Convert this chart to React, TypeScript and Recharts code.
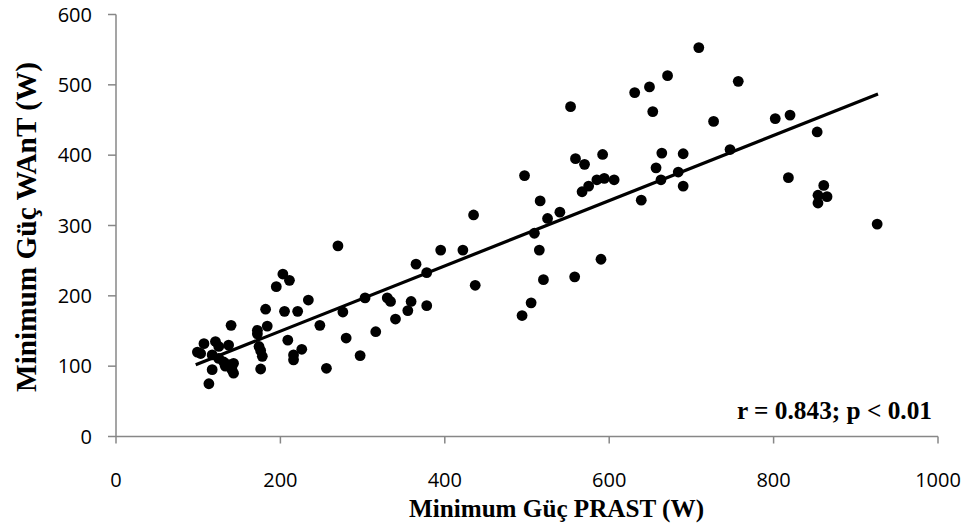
import React from 'react';
import { ScatterChart, Scatter, XAxis, YAxis, Label } from 'recharts';

// Minimum power, PRAST test (W) and WAnT test (W), one entry per subject
const prastW = [
  99, 103, 107, 113, 117, 117, 121, 125, 125, 131, 133, 137, 137, 140, 141, 143, 143,
  172, 172, 174, 176, 178, 176, 182, 184, 195, 203, 205, 209, 211, 216, 216, 221, 226,
  234, 248, 256, 270, 276, 280, 297, 303, 316, 330, 334, 340, 355, 359, 365, 378, 378,
  395, 422, 435, 437,
  494, 497, 505, 509, 515, 516, 520, 525, 540, 553, 558, 559, 567, 570, 575, 585, 590,
  592, 594, 606,
  631, 639, 649, 653, 657, 663, 664, 671, 684, 690, 690, 709, 727, 747, 757, 802, 818,
  820, 853, 854, 854, 861, 865, 926,
];
const wantW = [
  120, 118, 132, 75, 116, 95, 135, 128, 111, 106, 100, 130, 102, 158, 95, 104, 90,
  151, 146, 128, 122, 114, 96, 181, 157, 213, 231, 178, 137, 222, 116, 109, 178, 124,
  194, 158, 97, 271, 177, 140, 115, 197, 149, 197, 192, 167, 179, 192, 245, 233, 186,
  265, 265, 315, 215,
  172, 371, 190, 289, 265, 335, 223, 310, 319, 469, 227, 395, 348, 387, 356, 365, 252,
  401, 367, 365,
  489, 336, 497, 462, 382, 365, 403, 513, 376, 402, 356, 553, 448, 408, 505, 452, 368,
  457, 433, 343, 332, 357, 341, 302,
];

// regression line end points
const trendX = [97, 927];
const trendY = [102, 487];

const xTicks = [0, 200, 400, 600, 800, 1000];
const yTicks = [0, 100, 200, 300, 400, 500, 600];

const points = prastW.map((x, i) => ({ x, y: wantW[i] }));
const trend = trendX.map((x, i) => ({ x, y: trendY[i] }));

const serif = '"Liberation Serif", "Times New Roman", serif';
const sans = '"Open Sans", sans-serif';
const axisGray = '#878787';
const titleStyle = { fontFamily: serif, fontWeight: 'bold' as const, fill: '#000' };

const Dot = (props: any) => <circle cx={props.cx} cy={props.cy} r={5.4} fill="#000" />;

export default function App() {
  return (
    <div style={{ position: 'absolute', left: 0, top: 0, width: 965, height: 525, background: '#fff' }}>
      <ScatterChart width={965} height={525} margin={{ top: 14.5, right: 27, bottom: 0, left: 0 }}>
        <XAxis
          dataKey="x"
          type="number"
          domain={[0, 1000]}
          ticks={xTicks}
          height={88.5}
          stroke={axisGray}
          strokeWidth={1.5}
          tickSize={7}
          tickMargin={29}
          tick={{ fontSize: 20, fill: '#000', fontFamily: sans }}
        >
          <Label
            content={() => (
              <g>
                <text x={409} y={508} textLength={295} lengthAdjust="spacingAndGlyphs"
                  dominantBaseline="central" style={{ ...titleStyle, fontSize: 26 }}>
                  Minimum Güç PRAST (W)
                </text>
                <text x={737} y={410} textLength={195} lengthAdjust="spacingAndGlyphs"
                  dominantBaseline="central" style={{ ...titleStyle, fontSize: 26 }}>
                  r = 0.843; p &lt; 0.01
                </text>
              </g>
            )}
          />
        </XAxis>
        <YAxis
          dataKey="y"
          type="number"
          domain={[0, 600]}
          ticks={yTicks}
          width={116}
          stroke={axisGray}
          strokeWidth={1.5}
          tickSize={8}
          tickMargin={16}
          tick={{ fontSize: 20, fill: '#000', fontFamily: sans }}
        >
          <Label
            content={() => (
              <text x={26} y={392} transform="rotate(-90 26 392)" textLength={330} lengthAdjust="spacingAndGlyphs"
                dominantBaseline="central" style={{ ...titleStyle, fontSize: 29 }}>
                Minimum Güç WAnT (W)
              </text>
            )}
          />
        </YAxis>
        <Scatter data={points} shape={Dot} isAnimationActive={false} />
        <Scatter
          data={trend}
          line={{ stroke: '#000', strokeWidth: 3.2 }}
          shape={() => <g />}
          isAnimationActive={false}
        />
      </ScatterChart>
    </div>
  );
}
